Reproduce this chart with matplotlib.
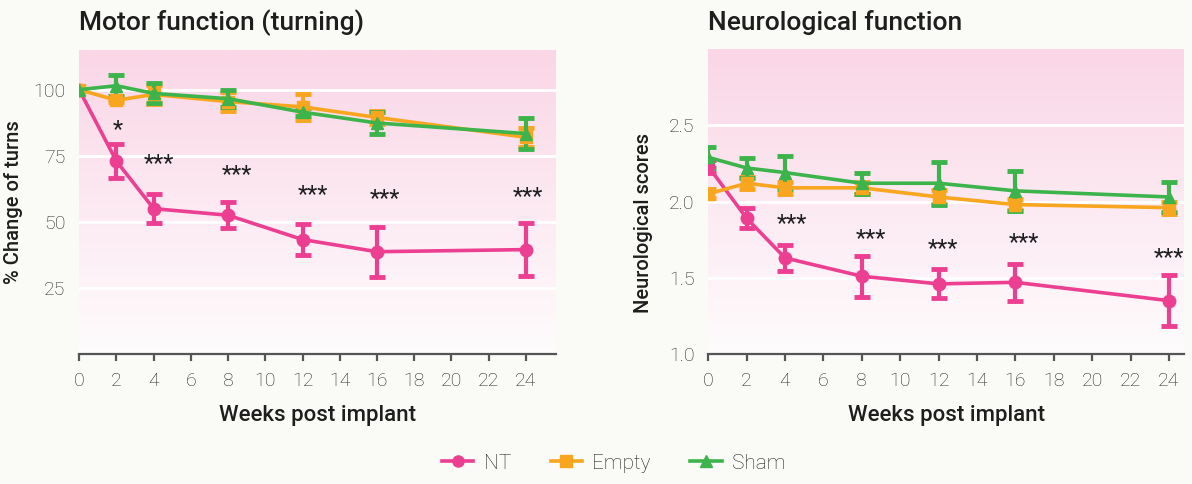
import numpy as np
import matplotlib
matplotlib.use('Agg')
import matplotlib.pyplot as plt
from matplotlib.colors import LinearSegmentedColormap

## data
weeks = [0, 2, 4, 8, 12, 16, 24]

motor_nt = [100, 73, 55, 52.5, 43.3, 38.7, 39.5]
motor_nt_err = [0, 6.3, 5.5, 5, 6, 9.5, 10]
motor_empty = [100, 96, 98.2, 95.5, 93.5, 89.5, 82]
motor_empty_err = [0, 0.5, 3.7, 3.5, 5, 2.5, 3.5]
motor_sham = [100, 101.5, 98.6, 96.6, 91.5, 87.4, 83.4]
motor_sham_err = [0, 4, 3.8, 3.2, 1.5, 4, 6]
motor_star_x = [2.05, 4.3, 8.5, 12.55, 16.4, 24.1]
motor_star_y = [85, 72, 68, 60.5, 58.7, 59.6]
motor_star_txt = ['*', '***', '***', '***', '***', '***']

neuro_nt = [2.23, 1.89, 1.63, 1.51, 1.46, 1.47, 1.35]
neuro_nt_err = [0.04, 0.065, 0.085, 0.135, 0.095, 0.12, 0.165]
neuro_empty = [2.05, 2.12, 2.09, 2.09, 2.03, 1.98, 1.96]
neuro_empty_err = [0.03, 0.04, 0.04, 0.04, 0.045, 0.035, 0.04]
neuro_sham = [2.29, 2.22, 2.19, 2.12, 2.12, 2.07, 2.03]
neuro_sham_err = [0.07, 0.065, 0.11, 0.07, 0.14, 0.13, 0.1]
neuro_star_x = [4.37, 8.47, 12.2, 16.47, 24.0]
neuro_star_y = [1.855, 1.76, 1.69, 1.73, 1.63]

PINK = '#ec3f91'
ORANGE = '#f8a51f'
GREEN = '#3db44b'
BG = '#fafaf6'
TXT = '#1e1e1e'

plt.rcParams['font.family'] = ['Roboto', 'DejaVu Sans']

fig = plt.figure(figsize=(11.92, 4.84), dpi=100, facecolor=BG)
ax1 = fig.add_axes([0.0664, 0.2686, 0.3998, 0.628])
ax2 = fig.add_axes([0.5942, 0.2686, 0.3993, 0.630])

cmap = LinearSegmentedColormap.from_list('pk', ['#fefcfd', '#fad6e6'])
grad = np.linspace(0, 1, 256).reshape(-1, 1)


def draw_panel(ax, series, ylim, yticks, ylabel, title, xmax, grid_vals):
    ax.set_facecolor('none')
    ax.imshow(grad, aspect='auto', cmap=cmap, origin='lower',
              extent=[0, 1, 0, 1], transform=ax.transAxes, zorder=0)
    for g in grid_vals:
        ax.axhline(g, color='white', lw=2, zorder=1)
    for y, e, c, m, ms in series:
        ax.errorbar(weeks, y, yerr=e, color=c, marker=m, ms=ms, lw=2.6,
                    elinewidth=3, capsize=6, capthick=3.5, zorder=3)
    ax.set_xlim(0, xmax)
    ax.set_ylim(*ylim)
    ax.set_xticks(range(0, 25, 2))
    ax.set_yticks(yticks)
    for s in ['top', 'right', 'left']:
        ax.spines[s].set_visible(False)
    ax.spines['bottom'].set_color('#555555')
    ax.spines['bottom'].set_linewidth(1.6)
    ax.tick_params(axis='x', length=5, width=1.6, color='#555555', pad=8,
                   labelsize=14, labelcolor='#262626')
    ax.tick_params(axis='y', length=0, pad=10, labelsize=14, labelcolor='#262626')
    for lab in ax.get_xticklabels() + ax.get_yticklabels():
        lab.set_fontweight('light')
    ax.set_xlabel('Weeks post implant', fontsize=16, fontweight='medium',
                  color=TXT, labelpad=11)
    ax.set_ylabel(ylabel, fontsize=14.5, fontweight='medium', color=TXT)
    ax.set_title(title, fontsize=19, fontweight='medium', color=TXT,
                 loc='left', pad=14)


draw_panel(ax1,
           [(motor_nt, motor_nt_err, PINK, 'o', 9),
            (motor_empty, motor_empty_err, ORANGE, 's', 8.5),
            (motor_sham, motor_sham_err, GREEN, '^', 9)],
           (0, 115), [25, 50, 75, 100], '% Change of turns',
           'Motor function (turning)', 25.6, [25, 50, 75, 100])
ax1.yaxis.set_label_coords(-0.118, 0.5)
for x, y, t in zip(motor_star_x, motor_star_y, motor_star_txt):
    ax1.text(x, y, t, ha='center', va='center', fontsize=17, color=TXT,
             zorder=4)

draw_panel(ax2,
           [(neuro_nt, neuro_nt_err, PINK, 'o', 9),
            (neuro_empty, neuro_empty_err, ORANGE, 's', 8.5),
            (neuro_sham, neuro_sham_err, GREEN, '^', 9)],
           (1.0, 3.0), [1.0, 1.5, 2.0, 2.5], 'Neurological scores',
           'Neurological function', 24.8, [1.5, 2.0, 2.5])
ax2.yaxis.set_label_coords(-0.116, 0.43)
for x, y in zip(neuro_star_x, neuro_star_y):
    ax2.text(x, y, '***', ha='center', va='center', fontsize=17, color=TXT,
             zorder=4, clip_on=False)

handles = [
    plt.Line2D([], [], color=PINK, marker='o', ms=8, lw=2.6),
    plt.Line2D([], [], color=ORANGE, marker='s', ms=8, lw=2.6),
    plt.Line2D([], [], color=GREEN, marker='^', ms=8, lw=2.6),
]
leg = fig.legend(handles, ['NT', 'Empty', 'Sham'], loc='center',
                 bbox_to_anchor=(0.515, 0.043), ncol=3, frameon=False,
                 fontsize=15, handlelength=1.5, columnspacing=1.9,
                 handletextpad=0.5)
for t in leg.get_texts():
    t.set_color(TXT)
    t.set_fontweight('light')

fig.savefig('out.png', dpi=100, facecolor=BG)
